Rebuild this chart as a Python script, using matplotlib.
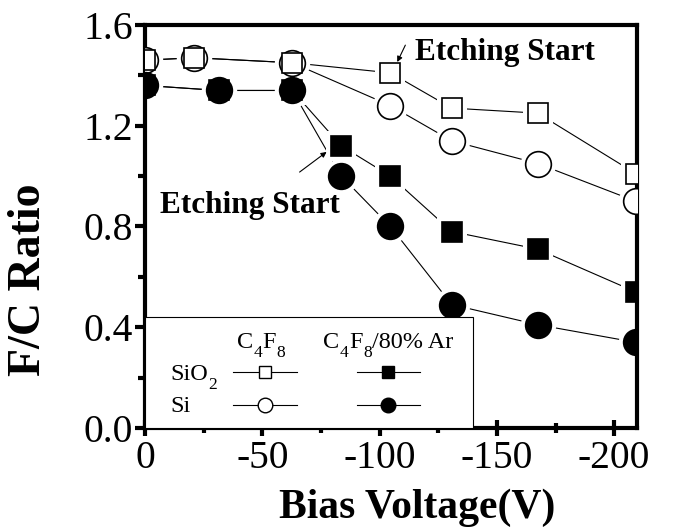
import matplotlib
matplotlib.use("Agg")
import matplotlib.pyplot as plt
from matplotlib.patches import Rectangle
from matplotlib.lines import Line2D
from matplotlib.transforms import offset_copy

plt.rcParams["font.family"] = ["Liberation Serif", "DejaVu Serif"]

# F/C ratio vs bias voltage
bias_c4f8 = [0, -20, -60, -100, -125, -160, -200]
fc_sio2_c4f8 = [1.46, 1.47, 1.45, 1.41, 1.27, 1.25, 1.01]
fc_si_c4f8 = [1.46, 1.47, 1.45, 1.28, 1.14, 1.05, 0.90]

bias_ar = [0, -30, -60, -80, -100, -125, -160, -200]
fc_sio2_ar = [1.36, 1.34, 1.34, 1.12, 1.00, 0.78, 0.71, 0.54]
fc_si_ar = [1.36, 1.34, 1.34, 1.00, 0.80, 0.49, 0.41, 0.34]

x_tick_labels = ["0", "-50", "-100", "-150", "-200"]
y_ticks = [0.0, 0.4, 0.8, 1.2, 1.6]

fig = plt.figure(figsize=(6.75, 5.27), dpi=100)
ax = fig.add_axes([0.2148, 0.1879, 0.7289, 0.7647])


def plot_series(x, y, marker, filled, size):
    face = "black" if filled else "white"
    ax.plot(x, y, color="black", lw=0.8, zorder=1)
    # white halo so the connecting lines stop short of the markers
    ax.plot(x, y, ls="none", marker=marker, ms=size + 7, mfc="white",
            mec="white", mew=0, zorder=2)
    ax.plot(x, y, ls="none", marker=marker, ms=size, mfc=face,
            mec="black", mew=1.2, zorder=3)


plot_series(bias_c4f8, fc_si_c4f8, "o", False, 18.5)
plot_series(bias_c4f8, fc_sio2_c4f8, "s", False, 15)
plot_series(bias_ar, fc_si_ar, "o", True, 18.5)
plot_series(bias_ar, fc_sio2_ar, "s", True, 15)

ax.set_xlim(0, -200.5)
ax.set_ylim(0, 1.6)

# the printed tick marks sit a little off the data scale in the original
tick_scale = 0.956
ax.set_xticks([-50 * i * tick_scale for i in range(5)])
ax.set_xticklabels(x_tick_labels)
ax.set_xticks([(-25 - 50 * i) * tick_scale for i in range(4)], minor=True)
ax.set_yticks(y_ticks)
ax.set_yticklabels([f"{v:.1f}" for v in y_ticks])
ax.set_yticks([0.2, 0.6, 1.0, 1.4], minor=True)

ax.tick_params(axis="x", which="major", direction="inout", length=11,
               width=3, labelsize=28.5, pad=3)
ax.tick_params(axis="x", which="minor", direction="inout", length=7, width=3)
ax.tick_params(axis="y", which="major", direction="out", length=7,
               width=3, labelsize=28.5, pad=1.5)
ax.tick_params(axis="y", which="minor", direction="out", length=5, width=3)
for side in ax.spines.values():
    side.set_linewidth(3)

ax.set_xlabel("Bias Voltage(V)", fontsize=30, fontweight="bold")
ax.xaxis.label.set_va("baseline")
ax.xaxis.set_label_coords(0.553, -0.2233)
ax.set_ylabel("F/C Ratio", fontsize=33, fontweight="bold")
ax.yaxis.label.set_va("center")
ax.yaxis.set_label_coords(-0.236, 0.367)

# annotations
ax.text(-110.2, 1.461, "Etching Start", fontsize=22.5, fontweight="bold",
        ha="left", va="baseline")
ax.annotate("", xy=(-102.8, 1.453), xytext=(-106.1, 1.52),
            arrowprops=dict(arrowstyle="-|>", color="black", lw=0.8,
                            mutation_scale=8, shrinkA=0, shrinkB=0))
ax.text(-6.1, 0.853, "Etching Start", fontsize=22.5, fontweight="bold",
        ha="left", va="baseline")
ax.annotate("", xy=(-74.0, 1.096), xytext=(-63.0, 1.016),
            arrowprops=dict(arrowstyle="-|>", color="black", lw=0.8,
                            mutation_scale=8, shrinkA=0, shrinkB=0))

# hand-drawn legend box in the lower-left corner
tr = ax.transAxes
renderer = fig.canvas.get_renderer()


def sub_text(x, y, parts, size=17.5):
    """Write text with deep subscripts, piece by piece (axes coords)."""
    dx = 0.0
    for s, is_sub in parts:
        fs = size * 0.72 if is_sub else size
        dy = -6.5 if is_sub else 0.0
        t = ax.text(x, y, s, fontsize=fs, ha="left", va="baseline", zorder=6,
                    transform=offset_copy(tr, fig=fig, x=dx, y=dy,
                                          units="points"))
        dx += t.get_window_extent(renderer).width * 72 / fig.dpi + 0.3


ax.add_patch(Rectangle((0, 0), 0.667, 0.275, transform=tr, facecolor="white",
                       edgecolor="black", lw=0.8, zorder=5))
sub_text(0.187, 0.198, [("C", False), ("4", True), ("F", False), ("8", True)])
sub_text(0.3625, 0.198, [("C", False), ("4", True), ("F", False), ("8", True),
                         ("/80% Ar", False)])
sub_text(0.0508, 0.119, [("SiO", False), ("2", True)])
sub_text(0.0508, 0.0405, [("Si", False)])

for y_row, marker, size in [(0.139, "s", 9), (0.057, "o", 10.5)]:
    for x0, x1, filled in [(0.1789, 0.3089, False), (0.4309, 0.5589, True)]:
        ax.add_line(Line2D([x0, x1], [y_row, y_row], transform=tr,
                           color="black", lw=0.8, zorder=6))
        ax.add_line(Line2D([(x0 + x1) / 2], [y_row], transform=tr,
                           marker=marker, ms=size,
                           mfc="black" if filled else "white",
                           mec="black", mew=1.0, zorder=7))

fig.savefig("out.png", dpi=100)
